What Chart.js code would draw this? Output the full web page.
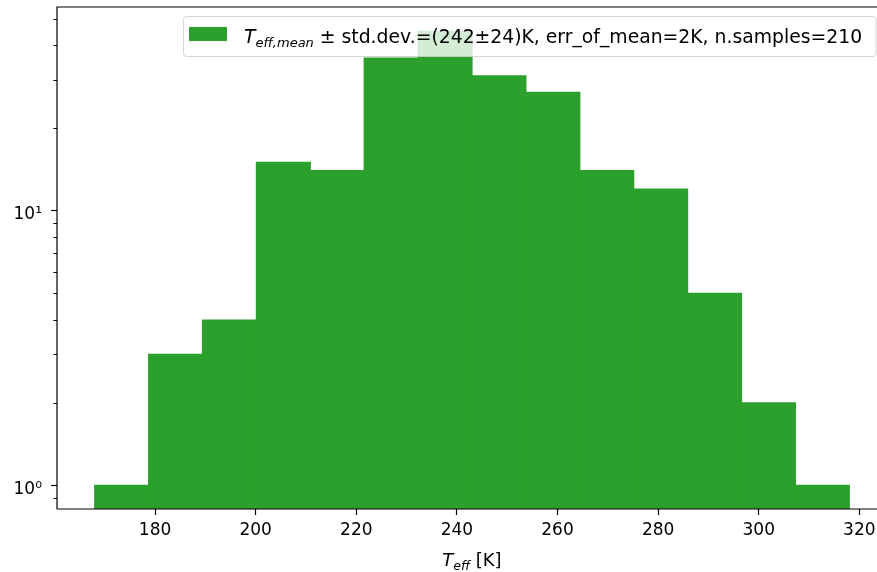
<!DOCTYPE html>
<html>
<head>
<meta charset="utf-8">
<script src="https://cdn.jsdelivr.net/npm/chart.js@4/dist/chart.umd.min.js"></script>
<style>
  html, body { margin: 0; padding: 0; background: #fff; overflow: hidden; }
  #wrap { width: 877px; height: 572px; overflow: hidden; }
  canvas { display: block; }
</style>
</head>
<body>
<div id="wrap"><canvas id="chart" width="890" height="572"></canvas></div>
<script>
// histogram bins (K) and counts
const binEdges = [168.0, 178.714, 189.429, 200.143, 210.857, 221.571, 232.286, 243.0,
                  253.714, 264.429, 275.143, 285.857, 296.571, 307.286, 318.0];
const counts   = [1, 3, 4, 15, 14, 36, 45, 31, 27, 14, 12, 5, 2, 1];

const xTicks       = [180, 200, 220, 240, 260, 280, 300, 320];
const yMajorTicks  = [1, 10];
const yMajorLabels = ['10⁰', '10¹'];
const yMinorTicks  = [0.9, 2, 3, 4, 5, 6, 7, 8, 9, 20, 30, 40, 50];

const legendSub  = 'eff,mean';
const legendRest = ' ± std.dev.=(242±24)K, err_of_mean=2K, n.samples=210';

const GREEN = '#2ca02c';
const FONT  = 'DejaVu Sans';

Chart.defaults.font.family = FONT;
Chart.defaults.font.size   = 17;
Chart.defaults.color       = '#000';

var histData = counts.map(function(c, i) {
  return { x: (binEdges[i] + binEdges[i + 1]) / 2, y: c };
});

// draw text made of pieces: [text, font, dy]
function drawPieces(ctx, pieces, x, y) {
  pieces.forEach(function(p) {
    ctx.font = p[1];
    ctx.fillText(p[0], x, y + p[2]);
    x += ctx.measureText(p[0]).width;
  });
  return x;
}
function piecesWidth(ctx, pieces) {
  var w = 0;
  pieces.forEach(function(p) { ctx.font = p[1]; w += ctx.measureText(p[0]).width; });
  return w;
}

function noPad(scale) {
  scale.paddingTop = 0;
  scale.paddingBottom = 0;
  scale.paddingLeft = 0;
  scale.paddingRight = 0;
}

const decorPlugin = {
  id: 'decor',
  afterDatasetsDraw: function(chart) {
    var ctx = chart.ctx, a = chart.chartArea, ys = chart.scales.y;
    ctx.save();
    // spines
    ctx.strokeStyle = '#000';
    ctx.lineWidth = 1.2;
    ctx.beginPath();
    ctx.moveTo(a.left, a.bottom);
    ctx.lineTo(a.left, a.top);
    ctx.lineTo(a.right, a.top);
    ctx.moveTo(a.left, a.bottom);
    ctx.lineTo(a.right, a.bottom);
    ctx.stroke();

    // minor log ticks (shorter than the major ones)
    ctx.lineWidth = 1;
    ctx.beginPath();
    yMinorTicks.forEach(function(v) {
      var py = Math.round(ys.getPixelForValue(v)) + 0.5;
      ctx.moveTo(a.left - 3.5, py);
      ctx.lineTo(a.left, py);
    });
    ctx.stroke();

    // legend
    var bx = 183.5, by = 16.5, bw = 692.5, bh = 40;
    ctx.beginPath();
    ctx.roundRect(bx, by, bw, bh, 3);
    ctx.fillStyle = 'rgba(255,255,255,0.8)';
    ctx.fill();
    ctx.strokeStyle = 'rgba(204,204,204,0.8)';
    ctx.stroke();
    ctx.fillStyle = GREEN;
    ctx.fillRect(189, 27, 38, 14);

    ctx.fillStyle = '#000';
    ctx.textBaseline = 'alphabetic';
    ctx.textAlign = 'left';
    drawPieces(ctx, [
      ['T', 'italic 18.8px "' + FONT + '"', 0],
      [legendSub, 'italic 13px "' + FONT + '"', 4],
      [legendRest, '18.8px "' + FONT + '"', 0]
    ], 244, 43);

    // x axis title
    var title = [
      ['T', 'italic 18px "' + FONT + '"', 0],
      ['eff', 'italic 12.5px "' + FONT + '"', 4],
      [' [K]', '18px "' + FONT + '"', 0]
    ];
    var tw = piecesWidth(ctx, title);
    drawPieces(ctx, title, (a.left + a.right) / 2 - tw / 2, 566);
    ctx.restore();
  }
};

new Chart(document.getElementById('chart'), {
  type: 'bar',
  data: {
    datasets: [{
      data: histData,
      backgroundColor: GREEN,
      borderWidth: 0,
      inflateAmount: 0.6,
      barPercentage: 1.0,
      categoryPercentage: 1.0
    }]
  },
  options: {
    responsive: false,
    animation: false,
    layout: { padding: { top: 7, right: 3, left: 0, bottom: 0 } },
    plugins: {
      legend: { display: false },
      tooltip: { enabled: false }
    },
    scales: {
      x: {
        type: 'linear',
        offset: false,
        min: 160.5,
        max: 325.5,
        border: { display: false },
        grid: { offset: false, drawOnChartArea: false, color: '#000', tickLength: 6, tickWidth: 1.2 },
        ticks: { padding: 5, maxRotation: 0, autoSkip: false },
        afterBuildTicks: function(scale) {
          scale.ticks = xTicks.map(function(v) { return { value: v }; });
        },
        afterFit: function(scale) { scale.height = 63; noPad(scale); }
      },
      y: {
        type: 'logarithmic',
        min: 0.8206,
        max: 55.2,
        border: { display: false },
        grid: { drawOnChartArea: false, color: '#000', tickLength: 6, tickWidth: 1.2 },
        ticks: {
          padding: 9,
          labelOffset: 4,
          autoSkip: false,
          callback: function(value) {
            var k = yMajorTicks.indexOf(value);
            return k >= 0 ? yMajorLabels[k] : '';
          }
        },
        afterBuildTicks: function(scale) {
          scale.ticks = yMajorTicks.map(function(v) { return { value: v, major: true }; });
        },
        afterFit: function(scale) { scale.width = 57; noPad(scale); }
      }
    }
  },
  plugins: [decorPlugin]
});
</script>
</body>
</html>
